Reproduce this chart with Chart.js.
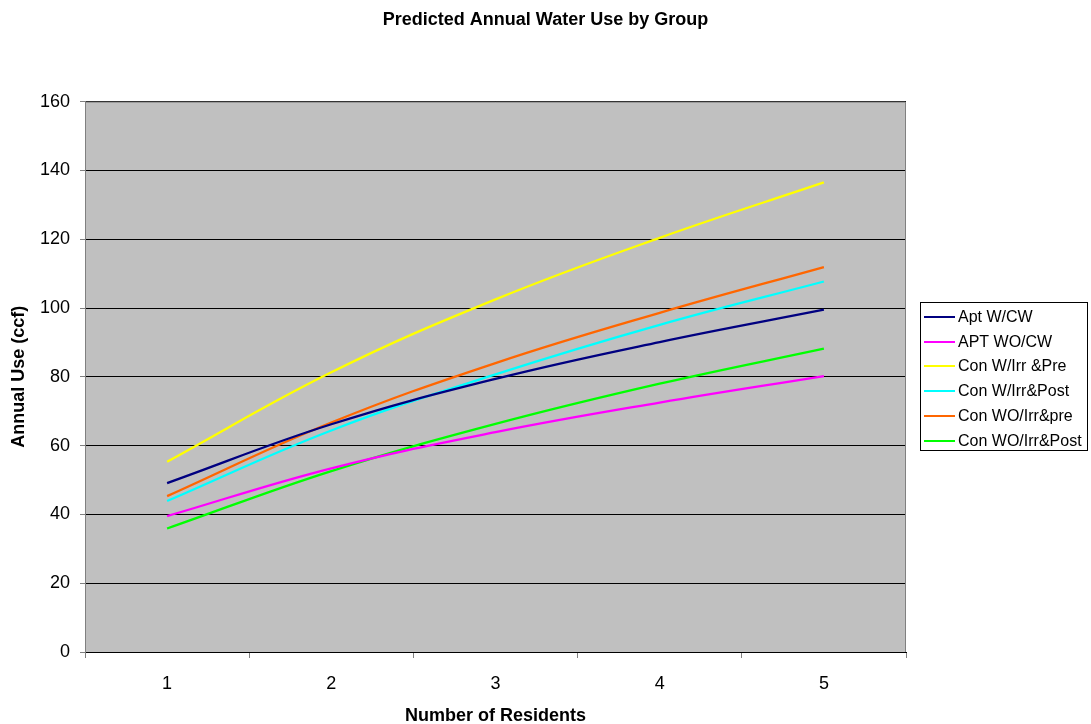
<!DOCTYPE html>
<html>
<head>
<meta charset="utf-8">
<script src="https://cdn.jsdelivr.net/npm/chart.js@4.4.0/dist/chart.umd.min.js"></script>
<style>
  html, body { margin: 0; padding: 0; background: #fff; }
  #wrap { width: 1091px; height: 724px; }
</style>
</head>
<body>
<div id="wrap"><canvas id="waterChart"></canvas></div>
<script>
const residents = ['1', '2', '3', '4', '5'];
const aptWithCW = [49.1, 66.2, 79.4, 90.1, 99.5];
const aptWithoutCW = [39.5, 53.4, 63.9, 72.5, 80.2];
const conWIrrPre = [55.3, 81.3, 102.5, 120.4, 136.5];
const conWIrrPost = [43.9, 64.4, 80.7, 95.1, 107.7];
const conWOIrrPre = [45.3, 66.7, 84.0, 98.6, 111.9];
const conWOIrrPost = [35.9, 52.6, 66.3, 78.0, 88.2];

const FONT = 'Arial, "Liberation Sans", sans-serif';

// grey plot area with border
const plotBg = {
  id: 'plotBg',
  beforeDraw(chart) {
    const { ctx, chartArea: a } = chart;
    ctx.save();
    ctx.fillStyle = '#c0c0c0';
    ctx.fillRect(a.left, a.top, a.right - a.left, a.bottom - a.top);
    ctx.restore();
  },
  afterDatasetsDraw(chart) {
    const { ctx, chartArea: a } = chart;
    ctx.save();
    ctx.strokeStyle = '#808080';
    ctx.lineWidth = 1;
    ctx.beginPath();
    ctx.moveTo(a.left + 0.5, a.bottom);
    ctx.lineTo(a.left + 0.5, a.top + 0.5);
    ctx.lineTo(a.right - 0.5, a.top + 0.5);
    ctx.lineTo(a.right - 0.5, a.bottom);
    ctx.stroke();
    ctx.restore();
  }
};

// Excel-style legend box on the right
const boxLegend = {
  id: 'boxLegend',
  afterDraw(chart) {
    const { ctx } = chart;
    const sets = chart.data.datasets;
    const x = 920, y = 302, w = 167, h = 148, rowH = 24.7;
    ctx.save();
    ctx.fillStyle = '#fff';
    ctx.fillRect(x, y, w, h);
    ctx.strokeStyle = '#000';
    ctx.lineWidth = 1;
    ctx.strokeRect(x + 0.5, y + 0.5, w, h);
    ctx.font = '16px ' + FONT;
    ctx.textBaseline = 'middle';
    sets.forEach((ds, i) => {
      const cy = Math.round(y + 15 + i * rowH);
      ctx.strokeStyle = ds.borderColor;
      ctx.lineWidth = 2;
      ctx.beginPath();
      ctx.moveTo(x + 4, cy);
      ctx.lineTo(x + 35, cy);
      ctx.stroke();
      ctx.fillStyle = '#000';
      ctx.fillText(ds.label, x + 38, cy + 1);
    });
    ctx.restore();
  }
};

function line(label, data, color) {
  return {
    label: label,
    data: data,
    borderColor: color,
    backgroundColor: color,
    borderWidth: 2.3,
    pointRadius: 0,
    tension: 0.4,
    fill: false
  };
}

new Chart(document.getElementById('waterChart').getContext('2d'), {
  type: 'line',
  data: {
    labels: residents,
    datasets: [
      line('Apt W/CW', aptWithCW, '#000080'),
      line('APT WO/CW', aptWithoutCW, '#ff00ff'),
      line('Con W/Irr &Pre', conWIrrPre, '#ffff00'),
      line('Con W/Irr&Post', conWIrrPost, '#00ffff'),
      line('Con WO/Irr&pre', conWOIrrPre, '#ff6600'),
      line('Con WO/Irr&Post', conWOIrrPost, '#00ff00')
    ]
  },
  options: {
    responsive: true,
    maintainAspectRatio: false,
    animation: false,
    layout: { padding: 0 },
    plugins: {
      legend: { display: false },
      tooltip: { enabled: false },
      title: {
        display: true,
        text: 'Predicted Annual Water Use by Group',
        color: '#000',
        font: { family: FONT, size: 18, weight: 'bold' },
        padding: { top: 9, bottom: 71 }
      }
    },
    scales: {
      x: {
        offset: true,
        afterFit(s) { s.height = 72; },
        grid: { offset: true, drawOnChartArea: false, color: '#808080', tickColor: '#808080', tickLength: 6 },
        border: { color: '#000' },
        ticks: { color: '#000', font: { family: FONT, size: 18 }, padding: 15 },
        title: {
          display: true,
          text: 'Number of Residents',
          color: '#000',
          font: { family: FONT, size: 18, weight: 'bold' },
          padding: { top: 0, bottom: -3 }
        }
      },
      y: {
        min: 0,
        max: 160,
        afterFit(s) { s.width = 85; },
        ticks: { stepSize: 20, color: '#000', font: { family: FONT, size: 18 }, padding: 10 },
        grid: { color: '#000', tickColor: '#808080', tickLength: 5 },
        border: { color: '#808080' },
        title: {
          display: true,
          text: 'Annual Use (ccf)',
          color: '#000',
          font: { family: FONT, size: 18, weight: 'bold' },
          padding: { top: 8, bottom: 4 }
        }
      },
      legendSpace: {
        position: 'right',
        afterFit(s) { s.width = 185; },
        grid: { display: false },
        border: { display: false },
        ticks: { display: false }
      }
    }
  },
  plugins: [plotBg, boxLegend]
});
</script>
</body>
</html>
